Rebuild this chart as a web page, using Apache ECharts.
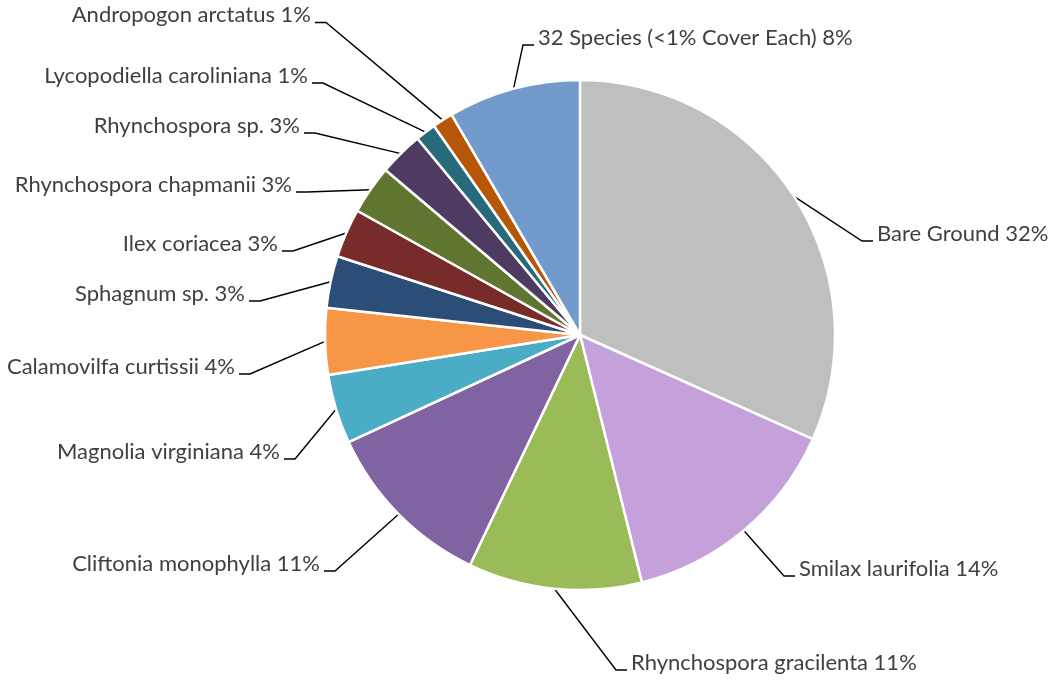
<!DOCTYPE html>
<html>
<head>
<meta charset="utf-8">
<script src="https://cdn.jsdelivr.net/npm/echarts@6/dist/echarts.min.js"></script>
<style>html,body{margin:0;padding:0;background:#fff}#c{width:1052px;height:681px}</style>
</head>
<body>
<div id="c"></div>
<script>
// ---- data ----
const categories = [
  'Bare Ground', 'Smilax laurifolia', 'Rhynchospora gracilenta', 'Cliftonia monophylla',
  'Magnolia virginiana', 'Calamovilfa curtissii', 'Sphagnum sp.', 'Ilex coriacea',
  'Rhynchospora chapmanii', 'Rhynchospora sp.', 'Lycopodiella caroliniana',
  'Andropogon arctatus', '32 Species (<1% Cover Each)'
];
const values = [31.7, 14.4, 11.0, 11.0, 4.4, 4.2, 3.3, 3.1, 3.1, 2.8, 1.3, 1.3, 8.4];

// ---- styles / layout ----
const colors = ['#BFBFBF', '#C4A1DB', '#9BBB59', '#8064A2', '#4BACC6', '#F79646', '#2C4D75',
  '#772C2A', '#5F7530', '#4D3B62', '#276A7C', '#B65708', '#729ACA'];
// label placement (text edge x, leader-line y, text alignment), as in the reference layout
const labelPlacement = [
  [873, 241, 'left'], [795, 576, 'left'], [627, 670, 'left'], [324, 571, 'right'],
  [284, 459, 'right'], [239, 374, 'right'], [249, 301, 'right'], [282, 251, 'right'],
  [296, 192, 'right'], [304, 133, 'right'], [312, 83, 'right'], [315, 22.5, 'right'],
  [534, 45, 'left']
];

const chart = echarts.init(document.getElementById('c'), null, {renderer: 'canvas'});
chart.setOption({
  animation: false,
  backgroundColor: '#fff',
  series: [{
    type: 'pie',
    center: [580, 335],
    radius: 255,
    startAngle: 90,
    clockwise: true,
    avoidLabelOverlap: false,
    data: categories.map((n, i) => ({name: n, value: values[i], itemStyle: {color: colors[i]}})),
    itemStyle: {borderColor: '#fff', borderWidth: 2.5},
    label: {
      show: true,
      color: '#404040',
      fontFamily: 'Lato',
      fontSize: 22,
      lineHeight: 15,
      padding: [0, 4, 0, 4],
      formatter: p => p.name + ' ' + Math.round(p.percent) + '%\n '
    },
    labelLine: {show: true, length: 20, length2: 11, lineStyle: {color: '#000', width: 1.4}},
    labelLayout: params => {
      const lp = labelPlacement[params.dataIndex];
      return {x: lp[0], y: lp[1], align: lp[2], verticalAlign: 'middle'};
    }
  }]
});
</script>
</body>
</html>
